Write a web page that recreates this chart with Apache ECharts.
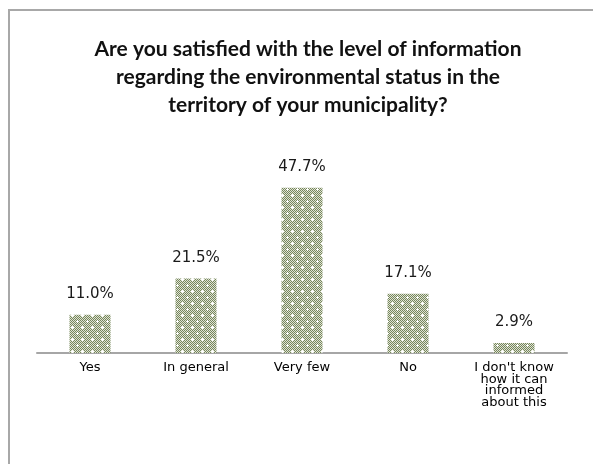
<!DOCTYPE html>
<html>
<head>
<meta charset="utf-8">
<script src="https://cdn.jsdelivr.net/npm/echarts@6/dist/echarts.min.js"></script>
<style>
  html, body { margin: 0; padding: 0; background: #fff; }
  #chart { width: 593px; height: 464px; }
</style>
</head>
<body>
<div id="chart"></div>
<script>
// Survey answers and their shares (percent of respondents)
const categories = ['Yes', 'In general', 'Very few', 'No', "I don't know\nhow it can\ninformed\nabout this"];
const shares = [11.0, 21.5, 47.7, 17.1, 2.9];
const titleText = 'Are you satisfied with the level of information\nregarding the environmental status in the\nterritory of your municipality?';

// Dotted olive fill with small white crosses, drawn once into a tile
function makeDotTile() {
  const w = 10, h = 12;
  const c = document.createElement('canvas');
  c.width = w; c.height = h;
  const ctx = c.getContext('2d');
  for (let y = 0; y < h; y++) {
    for (let x = 0; x < w; x++) {
      ctx.fillStyle = ((x + y) % 2 === 0) ? '#76865c' : '#dfe3d4';
      ctx.fillRect(x, y, 1, 1);
    }
  }
  ctx.fillStyle = '#ffffff';
  const crosses = [[2, 3], [7, 9]];
  crosses.forEach(([cx, cy]) => {
    ctx.fillRect(cx, cy, 1, 1);
    ctx.fillRect(cx - 1, cy, 1, 1);
    ctx.fillRect(cx + 1, cy, 1, 1);
    ctx.fillRect(cx, cy - 1, 1, 1);
    ctx.fillRect(cx, cy + 1, 1, 1);
  });
  return c;
}

const chart = echarts.init(document.getElementById('chart'), null, { renderer: 'canvas' });
chart.setOption({
  backgroundColor: '#ffffff',
  animation: false,
  graphic: [{
    type: 'rect',
    shape: { x: 9, y: 10, width: 700, height: 600 },
    style: { fill: 'none', stroke: '#a8a8a8', lineWidth: 2 },
    silent: true
  }],
  title: {
    text: titleText,
    left: 303,
    textAlign: 'center',
    top: 30,
    textStyle: {
      fontFamily: 'Lato',
      fontWeight: 'bold',
      fontSize: 21,
      lineHeight: 28,
      color: '#111'
    }
  },
  grid: { left: 37, right: 26, top: 145, bottom: 111, containLabel: false },
  xAxis: {
    type: 'category',
    data: categories,
    axisLine: { show: true, lineStyle: { color: '#a6a6a6', width: 2 } },
    axisTick: { show: false },
    axisLabel: {
      interval: 0,
      margin: 9,
      fontFamily: 'DejaVu Sans',
      fontSize: 13,
      lineHeight: 11.5,
      color: '#000'
    }
  },
  yAxis: {
    type: 'value',
    min: 0,
    max: 60,
    show: false,
    splitLine: { show: false }
  },
  series: [{
    type: 'bar',
    data: shares,
    barWidth: 41,
    itemStyle: { color: { image: makeDotTile(), repeat: 'repeat' } },
    label: {
      show: true,
      position: 'top',
      distance: 13,
      formatter: p => p.value.toFixed(1) + '%',
      fontFamily: 'DejaVu Sans',
      fontSize: 15,
      color: '#1a1a1a'
    }
  }]
});
</script>
</body>
</html>
